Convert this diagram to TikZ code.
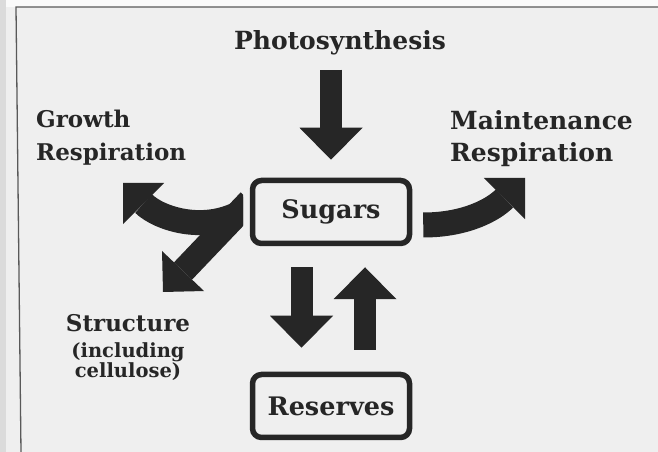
\documentclass[tikz,border=0pt]{standalone}
\usepackage{fontspec}
\setmainfont{DejaVu Serif}
\usetikzlibrary{arrows.meta, positioning}
\definecolor{ink}{HTML}{262626}
\definecolor{paper}{HTML}{EFEFEF}
\newcommand{\subtxt}{\fontsize{19.5}{20}\selectfont}

\begin{document}
\begin{tikzpicture}[x=1pt, y=1pt,
    label/.style={font=\bfseries\fontsize{25}{32}\selectfont, text=ink,
                  inner sep=0pt, align=left},
    pool/.style={rectangle, rounded corners=9pt, draw=ink, line width=5.5pt,
                 minimum width=157pt, minimum height=63pt, inner sep=0pt,
                 text=ink, font=\bfseries\fontsize{25.5}{28}\selectfont},
    fatarrow/.style={draw=ink, line width=22pt,
                     -{Triangle[length=32pt, width=63pt, line width=0pt]}},
    bendarrow/.style={draw=ink, line width=25pt,
                      -{Triangle[length=29pt, width=58pt, line width=0pt]}}
]
% paper and page edge
\useasboundingbox (0,0) rectangle (658,452);
\fill[paper] (0,0) rectangle (658,452);
\fill[white!96!gray] (6,445) rectangle (658,452);
\fill[gray!28] (0,0) rectangle (6,452);
\draw[gray!70!black, line width=1.3pt] (21,0) -- (16,445) -- (658,445);

% labels and pools
\node (photo) [label, anchor=base] at (340,402) {Photosynthesis};
\node (growth) [label, anchor=north west, font=\bfseries\fontsize{23}{33}\selectfont]
      at (36,342) {Growth\\Respiration};
\node (maint) [label, anchor=north west] at (450,342) {Maintenance\\Respiration};
\node (struct) [label, anchor=north, align=center, font=\bfseries\fontsize{23}{20}\selectfont]
      at (128,138) {Structure\\[6pt]\subtxt(including\\\subtxt cellulose)};
\node (sugars) [pool] at (331,240) {Sugars};
\node (reserves) [pool] at (331,46) {Reserves};

\coordinate (forkup) at ([yshift=5pt]sugars.west);
\coordinate (forkdown) at ([yshift=11pt]sugars.west);
\coordinate (growthtip) at (123,269);
\coordinate (structtip) at (163,160);
\coordinate (maintstart) at ([xshift=11pt, yshift=-13pt]sugars.east);
\coordinate (mainttip) at (525,274);

% arrows
\draw [fatarrow, shorten <=14pt, shorten >=18pt] (photo.south -| sugars.north) -- (sugars.north);
\draw [fatarrow, shorten <=21pt, shorten >=24pt] ([xshift=-29.5pt]sugars.south) -- ([xshift=-29.5pt]reserves.north);
\draw [fatarrow, shorten <=22pt, shorten >=21pt] ([xshift=34pt]reserves.north) -- ([xshift=34pt]sugars.south);
\begin{scope}
  \clip (0,0) rectangle (243,452);
  \draw [bendarrow] (forkup) to[out=215, in=-45] (growthtip);
  \draw [bendarrow] (forkdown) -- (structtip);
\end{scope}
\draw [bendarrow] (maintstart) to[out=0, in=225] (mainttip);
\end{tikzpicture}
\end{document}
